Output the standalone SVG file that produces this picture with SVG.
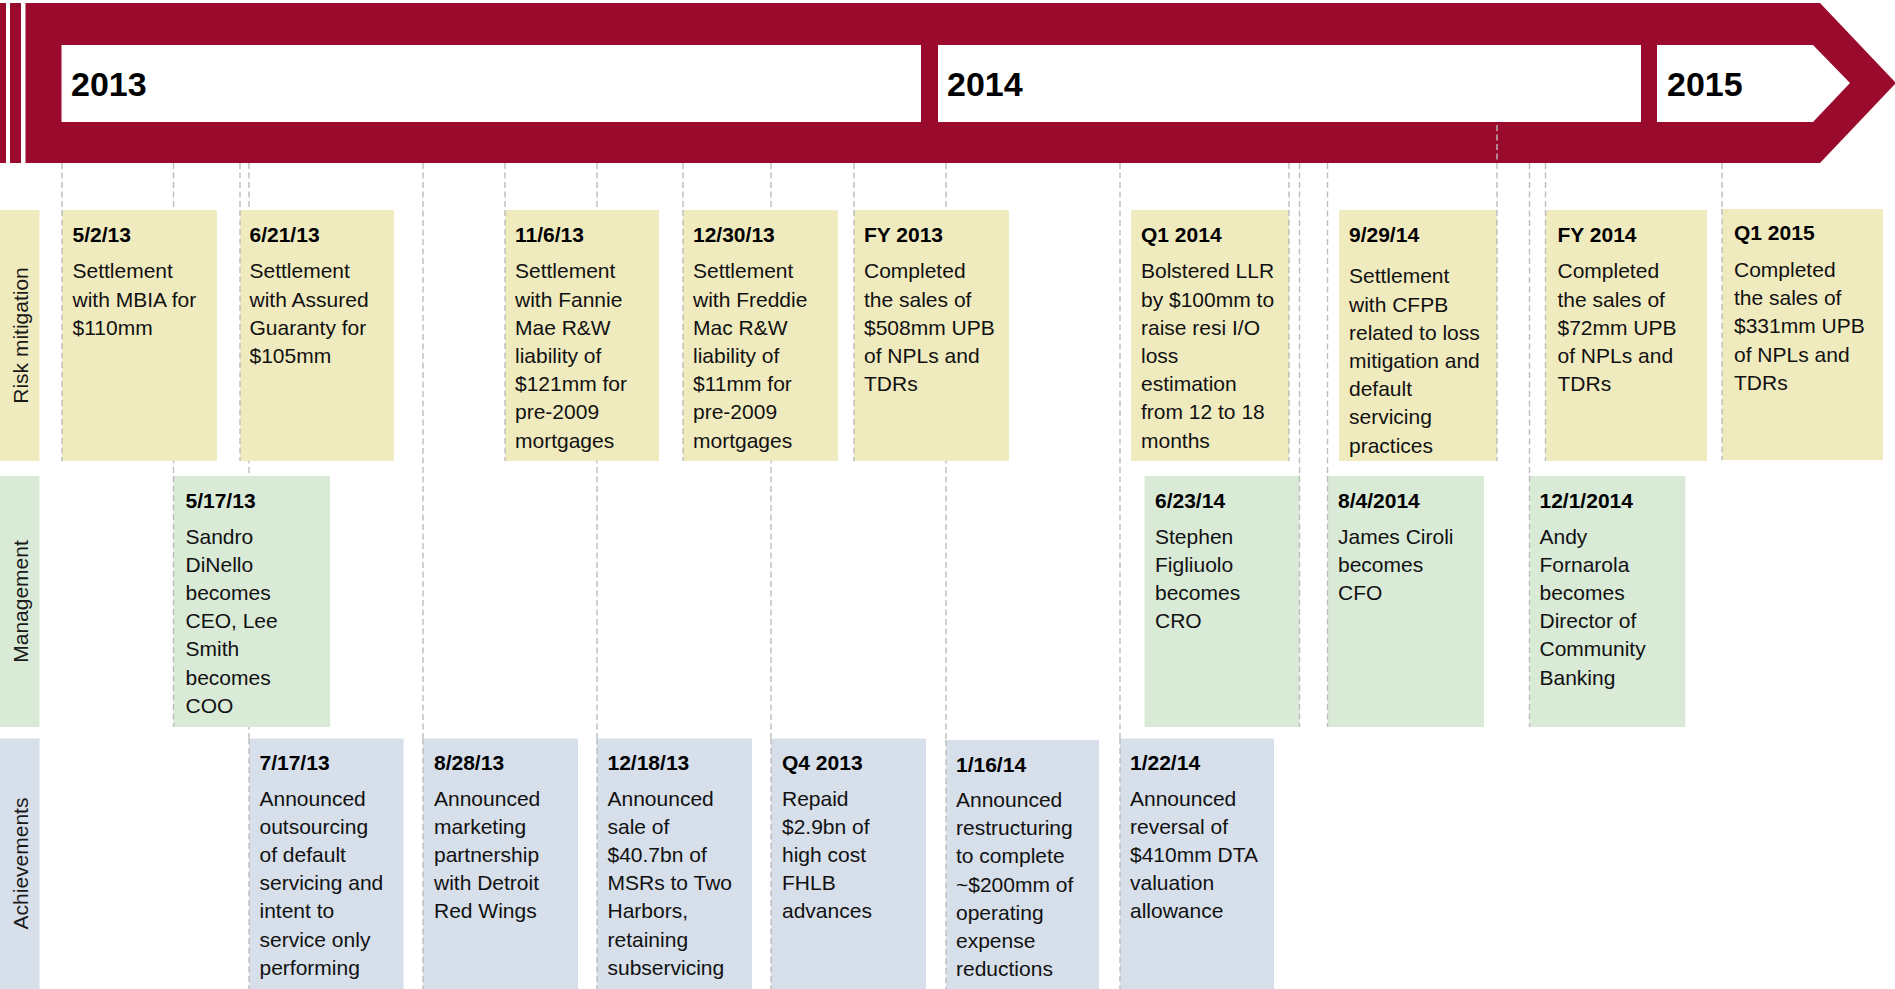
<svg xmlns="http://www.w3.org/2000/svg" width="1895" height="989" viewBox="0 0 1895 989">
<defs><style>
text{font-family:"Liberation Sans",Arial,sans-serif;fill:#000}
.yr{font-size:34px;font-weight:bold}
.d{font-size:21px;font-weight:bold}
.t{font-size:21px;fill:#111}
.lb{font-size:21px;fill:#1a1a1a}
.ban{fill:#990A2C}
.wh{fill:#fff}
.y{fill:#F0EBBF}
.g{fill:#D9EAD7}
.b{fill:#D6DFEA}
.dl{stroke:#BDBDBD;stroke-width:1.4;stroke-dasharray:6 3.5;fill:none}
</style></defs>
<rect width="1895" height="989" fill="#fff"/>
<g id="banner">
 <rect class="ban" x="0" y="3" width="6" height="160"/>
 <rect class="ban" x="10" y="3" width="11" height="160"/>
 <polygon class="ban" points="25.5,3 1820,3 1896,83 1820,163 25.5,163"/>
 <rect class="wh" x="61.5" y="45" width="859.5" height="77"/>
 <rect class="wh" x="938" y="45" width="703" height="77"/>
 <polygon class="wh" points="1657,45 1813,45 1850,83 1813,122 1657,122"/>
 <text class="yr" x="71" y="96">2013</text>
 <text class="yr" x="947" y="96">2014</text>
 <text class="yr" x="1667" y="96">2015</text>
</g>
<g id="connectors">
 <line class="dl" x1="62" y1="163" x2="62" y2="210"/>
 <line class="dl" x1="173.5" y1="163" x2="173.5" y2="476"/>
 <line class="dl" x1="240" y1="163" x2="240" y2="210"/>
 <line class="dl" x1="249" y1="163" x2="249" y2="738.5"/>
 <line class="dl" x1="423" y1="163" x2="423" y2="738.5"/>
 <line class="dl" x1="505" y1="163" x2="505" y2="210"/>
 <line class="dl" x1="597" y1="163" x2="597" y2="738.5"/>
 <line class="dl" x1="683" y1="163" x2="683" y2="210"/>
 <line class="dl" x1="771" y1="163" x2="771" y2="738.5"/>
 <line class="dl" x1="854" y1="163" x2="854" y2="210"/>
 <line class="dl" x1="946" y1="163" x2="946" y2="740"/>
 <line class="dl" x1="1120" y1="163" x2="1120" y2="738.5"/>
 <line class="dl" x1="1289" y1="163" x2="1289" y2="210"/>
 <line class="dl" x1="1299.5" y1="163" x2="1299.5" y2="476"/>
 <line class="dl" x1="1327.5" y1="163" x2="1327.5" y2="476"/>
 <line class="dl" x1="1497" y1="125" x2="1497" y2="210"/>
 <line class="dl" x1="1529.5" y1="163" x2="1529.5" y2="476"/>
 <line class="dl" x1="1545.5" y1="163" x2="1545.5" y2="210"/>
 <line class="dl" x1="1722" y1="163" x2="1722" y2="209"/>
</g>
<g id="lanes">
 <g id="lane-risk"><rect class="y" x="0" y="210" width="39.5" height="251"/><text class="lb" transform="translate(28,335.5) rotate(-90)" text-anchor="middle">Risk mitigation</text></g>
 <g id="lane-mgmt"><rect class="g" x="0" y="476" width="39.5" height="251"/><text class="lb" transform="translate(28,601.5) rotate(-90)" text-anchor="middle">Management</text></g>
 <g id="lane-ach"><rect class="b" x="0" y="738.5" width="39.5" height="251"/><text class="lb" transform="translate(28,863.5) rotate(-90)" text-anchor="middle">Achievements</text></g>
</g>
<g id="n-5-2-13"><rect class="y" x="62" y="210" width="155" height="251"/><line class="dl" x1="62" y1="210" x2="62" y2="461"/>
 <text class="d" x="72.5" y="241.5">5/2/13</text>
 <text class="t" y="278.3"><tspan x="72.5">Settlement</tspan><tspan x="72.5" dy="28.2">with MBIA for</tspan><tspan x="72.5" dy="28.2">$110mm</tspan></text></g>
<g id="n-6-21-13"><rect class="y" x="240" y="210" width="154" height="251"/><line class="dl" x1="240" y1="210" x2="240" y2="461"/>
 <text class="d" x="249.5" y="241.5">6/21/13</text>
 <text class="t" y="278.3"><tspan x="249.5">Settlement</tspan><tspan x="249.5" dy="28.2">with Assured</tspan><tspan x="249.5" dy="28.2">Guaranty for</tspan><tspan x="249.5" dy="28.2">$105mm</tspan></text></g>
<g id="n-11-6-13"><rect class="y" x="505" y="210" width="154" height="251"/><line class="dl" x1="505" y1="210" x2="505" y2="461"/>
 <text class="d" x="515" y="241.5">11/6/13</text>
 <text class="t" y="278.3"><tspan x="515">Settlement</tspan><tspan x="515" dy="28.2">with Fannie</tspan><tspan x="515" dy="28.2">Mae R&amp;W</tspan><tspan x="515" dy="28.2">liability of</tspan><tspan x="515" dy="28.2">$121mm for</tspan><tspan x="515" dy="28.2">pre-2009</tspan><tspan x="515" dy="28.2">mortgages</tspan></text></g>
<g id="n-12-30-13"><rect class="y" x="683" y="210" width="155" height="251"/><line class="dl" x1="683" y1="210" x2="683" y2="461"/>
 <text class="d" x="693" y="241.5">12/30/13</text>
 <text class="t" y="278.3"><tspan x="693">Settlement</tspan><tspan x="693" dy="28.2">with Freddie</tspan><tspan x="693" dy="28.2">Mac R&amp;W</tspan><tspan x="693" dy="28.2">liability of</tspan><tspan x="693" dy="28.2">$11mm for</tspan><tspan x="693" dy="28.2">pre-2009</tspan><tspan x="693" dy="28.2">mortgages</tspan></text></g>
<g id="n-fy-2013"><rect class="y" x="854" y="210" width="155" height="251"/><line class="dl" x1="854" y1="210" x2="854" y2="461"/>
 <text class="d" x="864" y="241.5">FY 2013</text>
 <text class="t" y="278.3"><tspan x="864">Completed</tspan><tspan x="864" dy="28.2">the sales of</tspan><tspan x="864" dy="28.2">$508mm UPB</tspan><tspan x="864" dy="28.2">of NPLs and</tspan><tspan x="864" dy="28.2">TDRs</tspan></text></g>
<g id="n-q1-2014"><rect class="y" x="1131" y="210" width="158" height="251"/><line class="dl" x1="1289" y1="210" x2="1289" y2="461"/>
 <text class="d" x="1141" y="241.5">Q1 2014</text>
 <text class="t" y="278.3"><tspan x="1141">Bolstered LLR</tspan><tspan x="1141" dy="28.2">by $100mm to</tspan><tspan x="1141" dy="28.2">raise resi I/O</tspan><tspan x="1141" dy="28.2">loss</tspan><tspan x="1141" dy="28.2">estimation</tspan><tspan x="1141" dy="28.2">from 12 to 18</tspan><tspan x="1141" dy="28.2">months</tspan></text></g>
<g id="n-9-29-14"><rect class="y" x="1339" y="210" width="158" height="251"/><line class="dl" x1="1497" y1="210" x2="1497" y2="461"/>
 <text class="d" x="1349" y="241.5">9/29/14</text>
 <text class="t" y="283.3"><tspan x="1349">Settlement</tspan><tspan x="1349" dy="28.2">with CFPB</tspan><tspan x="1349" dy="28.2">related to loss</tspan><tspan x="1349" dy="28.2">mitigation and</tspan><tspan x="1349" dy="28.2">default</tspan><tspan x="1349" dy="28.2">servicing</tspan><tspan x="1349" dy="28.2">practices</tspan></text></g>
<g id="n-fy-2014"><rect class="y" x="1545.5" y="210" width="161.5" height="251"/><line class="dl" x1="1545.5" y1="210" x2="1545.5" y2="461"/>
 <text class="d" x="1557.5" y="241.5">FY 2014</text>
 <text class="t" y="278.3"><tspan x="1557.5">Completed</tspan><tspan x="1557.5" dy="28.2">the sales of</tspan><tspan x="1557.5" dy="28.2">$72mm UPB</tspan><tspan x="1557.5" dy="28.2">of NPLs and</tspan><tspan x="1557.5" dy="28.2">TDRs</tspan></text></g>
<g id="n-q1-2015"><rect class="y" x="1722" y="209" width="161" height="251"/><line class="dl" x1="1722" y1="209" x2="1722" y2="460"/>
 <text class="d" x="1734" y="240">Q1 2015</text>
 <text class="t" y="277"><tspan x="1734">Completed</tspan><tspan x="1734" dy="28.2">the sales of</tspan><tspan x="1734" dy="28.2">$331mm UPB</tspan><tspan x="1734" dy="28.2">of NPLs and</tspan><tspan x="1734" dy="28.2">TDRs</tspan></text></g>
<g id="n-5-17-13"><rect class="g" x="173.5" y="476" width="156.5" height="251"/><line class="dl" x1="173.5" y1="476" x2="173.5" y2="727"/>
 <text class="d" x="185.5" y="507.5">5/17/13</text>
 <text class="t" y="543.5"><tspan x="185.5">Sandro</tspan><tspan x="185.5" dy="28.2">DiNello</tspan><tspan x="185.5" dy="28.2">becomes</tspan><tspan x="185.5" dy="28.2">CEO, Lee</tspan><tspan x="185.5" dy="28.2">Smith</tspan><tspan x="185.5" dy="28.2">becomes</tspan><tspan x="185.5" dy="28.2">COO</tspan></text></g>
<g id="n-6-23-14"><rect class="g" x="1144.5" y="476" width="155" height="251"/><line class="dl" x1="1299.5" y1="476" x2="1299.5" y2="727"/>
 <text class="d" x="1155" y="507.5">6/23/14</text>
 <text class="t" y="543.5"><tspan x="1155">Stephen</tspan><tspan x="1155" dy="28.2">Figliuolo</tspan><tspan x="1155" dy="28.2">becomes</tspan><tspan x="1155" dy="28.2">CRO</tspan></text></g>
<g id="n-8-4-2014"><rect class="g" x="1327.5" y="476" width="156.5" height="251"/><line class="dl" x1="1327.5" y1="476" x2="1327.5" y2="727"/>
 <text class="d" x="1338" y="507.5">8/4/2014</text>
 <text class="t" y="543.5"><tspan x="1338">James Ciroli</tspan><tspan x="1338" dy="28.2">becomes</tspan><tspan x="1338" dy="28.2">CFO</tspan></text></g>
<g id="n-12-1-2014"><rect class="g" x="1529.5" y="476" width="156" height="251"/><line class="dl" x1="1529.5" y1="476" x2="1529.5" y2="727"/>
 <text class="d" x="1539.5" y="507.5">12/1/2014</text>
 <text class="t" y="543.5"><tspan x="1539.5">Andy</tspan><tspan x="1539.5" dy="28.2">Fornarola</tspan><tspan x="1539.5" dy="28.2">becomes</tspan><tspan x="1539.5" dy="28.2">Director of</tspan><tspan x="1539.5" dy="28.2">Community</tspan><tspan x="1539.5" dy="28.2">Banking</tspan></text></g>
<g id="n-7-17-13"><rect class="b" x="249" y="738.5" width="154.5" height="251"/><line class="dl" x1="249" y1="738.5" x2="249" y2="989"/>
 <text class="d" x="259.5" y="770">7/17/13</text>
 <text class="t" y="805.5"><tspan x="259.5">Announced</tspan><tspan x="259.5" dy="28.2">outsourcing</tspan><tspan x="259.5" dy="28.2">of default</tspan><tspan x="259.5" dy="28.2">servicing and</tspan><tspan x="259.5" dy="28.2">intent to</tspan><tspan x="259.5" dy="28.2">service only</tspan><tspan x="259.5" dy="28.2">performing</tspan></text></g>
<g id="n-8-28-13"><rect class="b" x="423" y="738.5" width="155" height="251"/><line class="dl" x1="423" y1="738.5" x2="423" y2="989"/>
 <text class="d" x="434" y="770">8/28/13</text>
 <text class="t" y="805.5"><tspan x="434">Announced</tspan><tspan x="434" dy="28.2">marketing</tspan><tspan x="434" dy="28.2">partnership</tspan><tspan x="434" dy="28.2">with Detroit</tspan><tspan x="434" dy="28.2">Red Wings</tspan></text></g>
<g id="n-12-18-13"><rect class="b" x="597" y="738.5" width="155" height="251"/><line class="dl" x1="597" y1="738.5" x2="597" y2="989"/>
 <text class="d" x="607.5" y="770">12/18/13</text>
 <text class="t" y="805.5"><tspan x="607.5">Announced</tspan><tspan x="607.5" dy="28.2">sale of</tspan><tspan x="607.5" dy="28.2">$40.7bn of</tspan><tspan x="607.5" dy="28.2">MSRs to Two</tspan><tspan x="607.5" dy="28.2">Harbors,</tspan><tspan x="607.5" dy="28.2">retaining</tspan><tspan x="607.5" dy="28.2">subservicing</tspan></text></g>
<g id="n-q4-2013"><rect class="b" x="771" y="738.5" width="155" height="251"/><line class="dl" x1="771" y1="738.5" x2="771" y2="989"/>
 <text class="d" x="782" y="770">Q4 2013</text>
 <text class="t" y="805.5"><tspan x="782">Repaid</tspan><tspan x="782" dy="28.2">$2.9bn of</tspan><tspan x="782" dy="28.2">high cost</tspan><tspan x="782" dy="28.2">FHLB</tspan><tspan x="782" dy="28.2">advances</tspan></text></g>
<g id="n-1-16-14"><rect class="b" x="946" y="740" width="153" height="250"/><line class="dl" x1="946" y1="740" x2="946" y2="989"/>
 <text class="d" x="956" y="771.5">1/16/14</text>
 <text class="t" y="807"><tspan x="956">Announced</tspan><tspan x="956" dy="28.2">restructuring</tspan><tspan x="956" dy="28.2">to complete</tspan><tspan x="956" dy="28.2">~$200mm of</tspan><tspan x="956" dy="28.2">operating</tspan><tspan x="956" dy="28.2">expense</tspan><tspan x="956" dy="28.2">reductions</tspan></text></g>
<g id="n-1-22-14"><rect class="b" x="1120" y="738.5" width="154" height="251"/><line class="dl" x1="1120" y1="738.5" x2="1120" y2="989"/>
 <text class="d" x="1130" y="770">1/22/14</text>
 <text class="t" y="805.5"><tspan x="1130">Announced</tspan><tspan x="1130" dy="28.2">reversal of</tspan><tspan x="1130" dy="28.2">$410mm DTA</tspan><tspan x="1130" dy="28.2">valuation</tspan><tspan x="1130" dy="28.2">allowance</tspan></text></g>
</svg>
